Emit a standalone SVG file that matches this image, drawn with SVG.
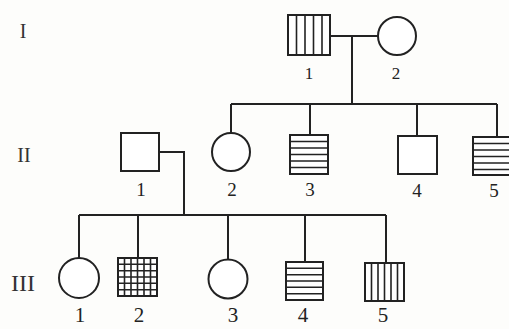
<svg xmlns="http://www.w3.org/2000/svg" width="509" height="329" viewBox="0 0 509 329">
<style>
.s{fill:#fff;stroke:#222;stroke-width:2}
.h{stroke:#222;stroke-width:1.6;fill:none}
.c{stroke:#222;stroke-width:2;fill:none}
.t{font-family:"Liberation Serif","Times New Roman",serif;fill:#222;text-anchor:middle}
.g{font-size:19px}
.b{font-size:21px}
.r{font-family:"Liberation Serif",serif;fill:#333;text-anchor:middle;font-size:20px}
</style>
<rect width="509" height="329" fill="#fdfdfb"/>
<g id="generations">
<text class="r" x="23" y="38">I</text>
<text class="r" x="24" y="162">II</text>
<text class="r" x="23" y="291" style="font-size:24px">III</text>
</g>
<g id="connectors">
<path class="c" d="M330 36H378M352 36V104M231 104H497M231 104V133M310 104V135M417 104V136M497 104V137"/>
<path class="c" d="M159 152H185M184 152V215M79 215H386M79 215V258M138 215V258M228 215V260M305 215V262M386 215V263"/>
</g>
<g id="I-1">
<rect class="s" x="288" y="15" width="42" height="40"/>
<path class="h" d="M296.5 15V55M305 15V55M313.5 15V55M322 15V55"/>
<text class="t" x="309" y="79" style="font-size:17px">1</text>
</g>
<g id="I-2">
<circle class="s" cx="397" cy="36" r="19"/>
<text class="t" x="396" y="79" style="font-size:17px">2</text>
</g>
<g id="II-1">
<rect class="s" x="121" y="133" width="38" height="38"/>
<text class="t g" x="141" y="196">1</text>
</g>
<g id="II-2">
<circle class="s" cx="231" cy="152" r="19"/>
<text class="t g" x="232" y="196">2</text>
</g>
<g id="II-3">
<rect class="s" x="290" y="135" width="38" height="39"/>
<path class="h" d="M290 141.5H328M290 148H328M290 154.5H328M290 161H328M290 167.5H328"/>
<text class="t g" x="310" y="196">3</text>
</g>
<g id="II-4">
<rect class="s" x="398" y="136" width="39" height="38"/>
<text class="t g" x="417" y="197">4</text>
</g>
<g id="II-5">
<rect class="s" x="473" y="137" width="40" height="38"/>
<path class="h" d="M473 143.5H509M473 150H509M473 156.5H509M473 163H509M473 169.5H509"/>
<text class="t g" x="494" y="197">5</text>
</g>
<g id="III-1">
<circle class="s" cx="79" cy="278" r="20"/>
<text class="t b" x="80" y="322">1</text>
</g>
<g id="III-2">
<rect class="s" x="118" y="258" width="39" height="38"/>
<path class="h" d="M124.5 258V296M131 258V296M137.5 258V296M144 258V296M150.5 258V296M118 264.3H157M118 270.7H157M118 277H157M118 283.3H157M118 289.7H157"/>
<text class="t b" x="139" y="322">2</text>
</g>
<g id="III-3">
<circle class="s" cx="228" cy="279" r="19.5"/>
<text class="t b" x="233" y="322">3</text>
</g>
<g id="III-4">
<rect class="s" x="286" y="262" width="37" height="38"/>
<path class="h" d="M286 268.3H323M286 274.7H323M286 281H323M286 287.3H323M286 293.7H323"/>
<text class="t b" x="303" y="322">4</text>
</g>
<g id="III-5">
<rect class="s" x="365" y="263" width="39" height="38"/>
<path class="h" d="M371.5 263V301M378 263V301M384.5 263V301M391 263V301M397.5 263V301"/>
<text class="t b" x="383" y="322">5</text>
</g>
</svg>
